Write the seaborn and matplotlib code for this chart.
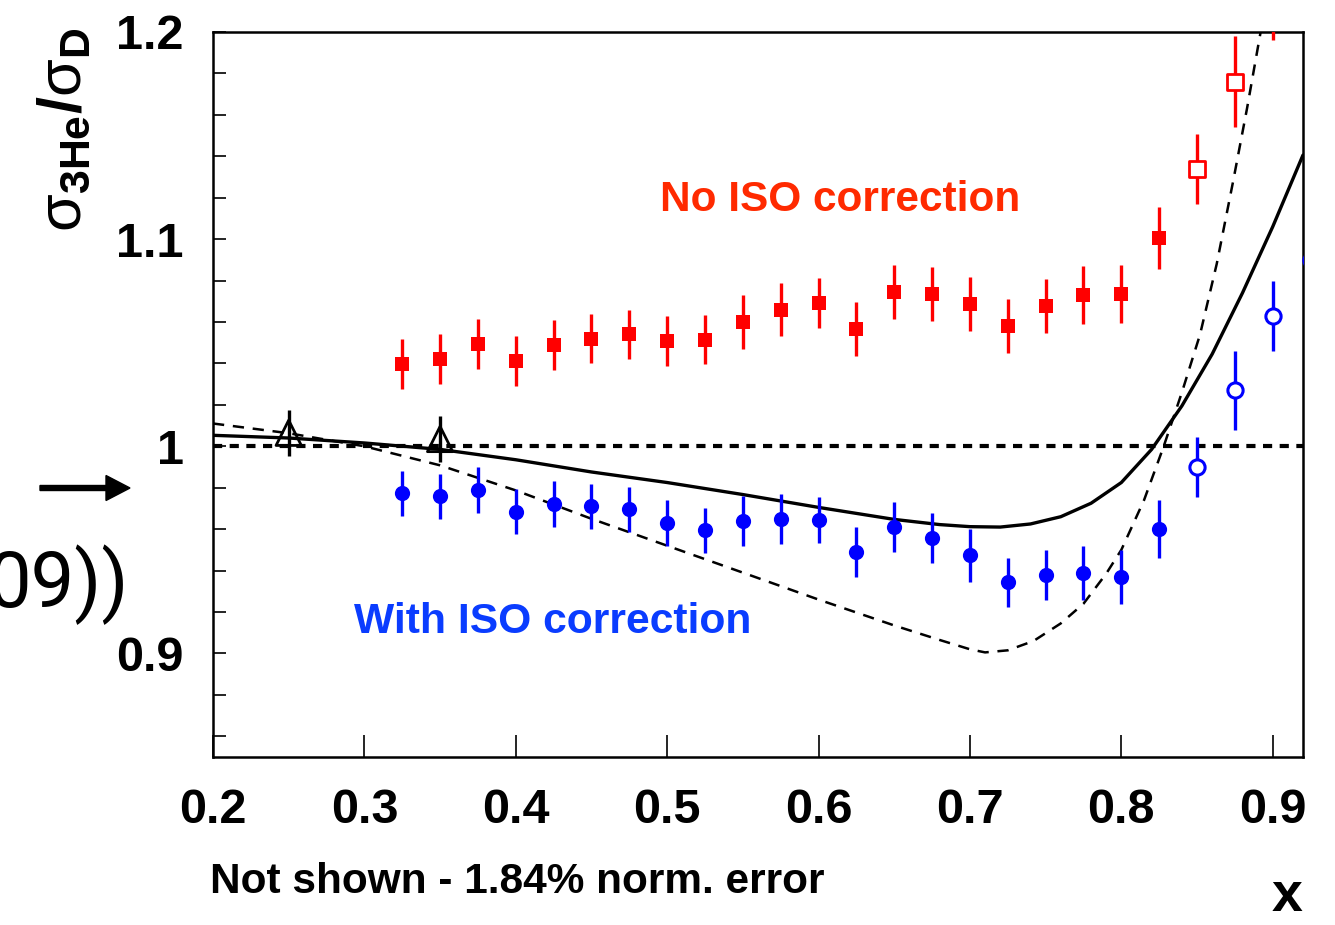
import numpy as np
import pandas as pd
import matplotlib
matplotlib.use("Agg")
import matplotlib.pyplot as plt
import seaborn as sns

# Ratio without isospin correction (filled: main sample, open: high-x points)
x_noiso = [0.325, 0.35, 0.375, 0.40, 0.425, 0.45, 0.475, 0.50, 0.525, 0.55, 0.575,
           0.60, 0.625, 0.65, 0.675, 0.70, 0.725, 0.75, 0.775, 0.80, 0.825]
r_noiso = [1.0396, 1.0420, 1.0493, 1.0410, 1.0490, 1.0520, 1.0540, 1.0507, 1.0515, 1.0600, 1.0660,
           1.0690, 1.0565, 1.0744, 1.0734, 1.0686, 1.0580, 1.0676, 1.0730, 1.0734, 1.1005]
e_noiso = [0.012, 0.012, 0.012, 0.012, 0.012, 0.012, 0.012, 0.012, 0.012, 0.013, 0.013,
           0.012, 0.013, 0.013, 0.013, 0.013, 0.013, 0.013, 0.014, 0.014, 0.015]
x_noiso_hi = [0.85, 0.875, 0.90]
r_noiso_hi = [1.134, 1.176, 1.222]
e_noiso_hi = [0.017, 0.022, 0.026]

# Ratio with isospin correction
x_iso = [0.325, 0.35, 0.375, 0.40, 0.425, 0.45, 0.475, 0.50, 0.525, 0.55, 0.575,
         0.60, 0.625, 0.65, 0.675, 0.70, 0.725, 0.75, 0.775, 0.80, 0.825]
r_iso = [0.9773, 0.9758, 0.9790, 0.9685, 0.9720, 0.9710, 0.9695, 0.9630, 0.9594, 0.9638, 0.9650,
         0.9643, 0.9488, 0.9610, 0.9556, 0.9473, 0.9343, 0.9380, 0.9390, 0.9370, 0.9600]
e_iso = [0.011, 0.011, 0.011, 0.011, 0.011, 0.011, 0.011, 0.011, 0.011, 0.012, 0.012,
         0.011, 0.012, 0.012, 0.012, 0.013, 0.012, 0.012, 0.013, 0.013, 0.014]
x_iso_hi = [0.85, 0.875, 0.90, 0.925]
r_iso_hi = [0.990, 1.027, 1.063, 1.090]
e_iso_hi = [0.0145, 0.019, 0.017, 0.02]

# Low-x reference points
x_tri = [0.25, 0.35]
r_tri = [1.0065, 1.0035]
e_tri = [0.011, 0.011]

# Model curves
x_solid = [0.20, 0.25, 0.30, 0.35, 0.40, 0.45, 0.50, 0.55, 0.60, 0.65, 0.68, 0.70, 0.72,
           0.74, 0.76, 0.78, 0.80, 0.82, 0.84, 0.86, 0.88, 0.90, 0.92]
y_solid = [1.0053, 1.0040, 1.0016, 0.9985, 0.9935, 0.9876, 0.9825, 0.9767, 0.9705, 0.9647, 0.9622, 0.9612, 0.9610,
           0.9625, 0.9660, 0.9725, 0.9825, 0.9985, 1.0195, 1.0445, 1.0740, 1.1060, 1.1406]
x_dash = [0.20, 0.25, 0.30, 0.35, 0.40, 0.45, 0.50, 0.55, 0.60, 0.65, 0.68, 0.70, 0.71, 0.725,
          0.742, 0.76, 0.775, 0.79, 0.80, 0.815, 0.828, 0.84, 0.852, 0.863, 0.874, 0.883, 0.892, 0.90]
y_dash = [1.0110, 1.0063, 1.0000, 0.9908, 0.9787, 0.9650, 0.9520, 0.9390, 0.9260, 0.9135, 0.9065, 0.9020, 0.9005, 0.9015,
          0.9060, 0.9145, 0.9240, 0.9385, 0.9500, 0.9740, 1.0000, 1.0260, 1.0540, 1.0880, 1.1285, 1.1630, 1.2000, 1.2350]

xticks = [0.2, 0.3, 0.4, 0.5, 0.6, 0.7, 0.8, 0.9]
yticks = [0.9, 1.0, 1.1, 1.2]
ytick_labels = ["0.9", "1", "1.1", "1.2"]

RED = "#ff0000"
BLUE = "#0000ff"

sns.set_theme(style="white")
plt.rcParams["font.family"] = ["Liberation Sans", "DejaVu Sans"]
plt.rcParams["mathtext.fontset"] = "custom"
plt.rcParams["mathtext.rm"] = "Liberation Sans"
plt.rcParams["mathtext.bf"] = "Liberation Sans:bold"
plt.rcParams["mathtext.it"] = "Liberation Sans:italic"

fig = plt.figure(figsize=(13.35, 9.25), dpi=100)
ax = fig.add_axes([213 / 1335, 1 - 757 / 925, (1303 - 213) / 1335, (757 - 32) / 925])

# unity reference
ax.axhline(1.0, color="black", lw=3.0, ls=(0, (2.2, 1.8)), zorder=2)

# model curves
sns.lineplot(x=x_solid, y=y_solid, ax=ax, color="black", lw=2.4, sort=False, zorder=3)
sns.lineplot(x=x_dash, y=y_dash, ax=ax, color="black", lw=1.8, ls=(0, (4.5, 3.5)), sort=False, zorder=3)

# error bars
eb_kw = dict(fmt="none", elinewidth=2.4, capsize=0, zorder=4)
ax.errorbar(x_noiso, r_noiso, yerr=e_noiso, ecolor=RED, **eb_kw)
ax.errorbar(x_noiso_hi, r_noiso_hi, yerr=e_noiso_hi, ecolor=RED, **eb_kw)
ax.errorbar(x_iso, r_iso, yerr=e_iso, ecolor=BLUE, **eb_kw)
ax.errorbar(x_iso_hi, r_iso_hi, yerr=e_iso_hi, ecolor=BLUE, **eb_kw)
ax.errorbar(x_tri, r_tri, yerr=e_tri, ecolor="black", **eb_kw)

# markers
sns.scatterplot(x=x_noiso, y=r_noiso, ax=ax, marker="s", s=110, color=RED,
                edgecolor=RED, linewidth=0, zorder=5)
sns.scatterplot(x=x_noiso_hi, y=r_noiso_hi, ax=ax, marker="s", s=130, facecolor="white",
                edgecolor=RED, linewidth=2.0, zorder=5)
sns.scatterplot(x=x_iso, y=r_iso, ax=ax, marker="o", s=120, color=BLUE,
                edgecolor=BLUE, linewidth=0, zorder=5)
sns.scatterplot(x=x_iso_hi, y=r_iso_hi, ax=ax, marker="o", s=120, facecolor="white",
                edgecolor=BLUE, linewidth=2.2, zorder=5)
sns.scatterplot(x=x_tri, y=r_tri, ax=ax, marker="^", s=330, facecolor="none",
                edgecolor="black", linewidth=2.0, zorder=5)

ax.set_xlim(0.2, 0.92)
ax.set_ylim(0.85, 1.2)
ax.set_xticks(xticks)
ax.set_xticklabels([f"{v:.1f}" for v in xticks])
ax.set_yticks(yticks)
ax.set_yticklabels(ytick_labels)
ax.set_yticks(np.arange(0.86, 1.2, 0.02), minor=True)
ax.tick_params(axis="both", which="both", direction="in", length=9, width=1.2,
               colors="black", labelsize=35, left=True, bottom=True)
ax.tick_params(axis="x", which="major", length=16, pad=22)
ax.tick_params(axis="y", which="major", pad=21)
for lab in ax.get_xticklabels() + ax.get_yticklabels():
    lab.set_fontweight("bold")
for sp in ax.spines.values():
    sp.set_color("black")
    sp.set_linewidth(1.8)
ax.grid(False)
ax.set_xlabel("")
ax.set_ylabel("")

# annotations
ax.text(0.6144, 1.119, "No ISO correction", color="#ff2a00", fontsize=30.5,
        fontweight="bold", ha="center", va="center")
ax.text(0.4247, 0.915, "With ISO correction", color="#0a3cff", fontsize=30.7,
        fontweight="bold", ha="center", va="center")

fig.text(65 / 1335, 1 - 130 / 925, r"$\mathrm{σ}_{\mathbf{3He}}\mathbf{/}\mathrm{σ}_{\mathbf{D}}$",
         fontsize=44, rotation=90, ha="center", va="center", color="black")
fig.text(210 / 1335, 1 - 882 / 925, "Not shown - 1.84% norm. error", fontsize=30.5,
         fontweight="bold", ha="left", va="center", color="black")
fig.text(1287 / 1335, 1 - 923 / 925, "x", fontsize=40, fontweight="bold",
         ha="center", va="bottom", color="black")

# pointer and fragment from the surrounding page
fig.patches.append(matplotlib.patches.FancyArrow(
    40 / 1335, 1 - 488 / 925, 90 / 1335, 0, width=5 / 925, head_width=25 / 925,
    head_length=24 / 1335, length_includes_head=True, color="black",
    transform=fig.transFigure, figure=fig))
fig.text(129 / 1335, 1 - 585 / 925, "09))", fontsize=56, fontweight="normal",
         family=["Roboto", "DejaVu Sans"], ha="right", va="center", color="black")

fig.savefig("out.png", dpi=100)
